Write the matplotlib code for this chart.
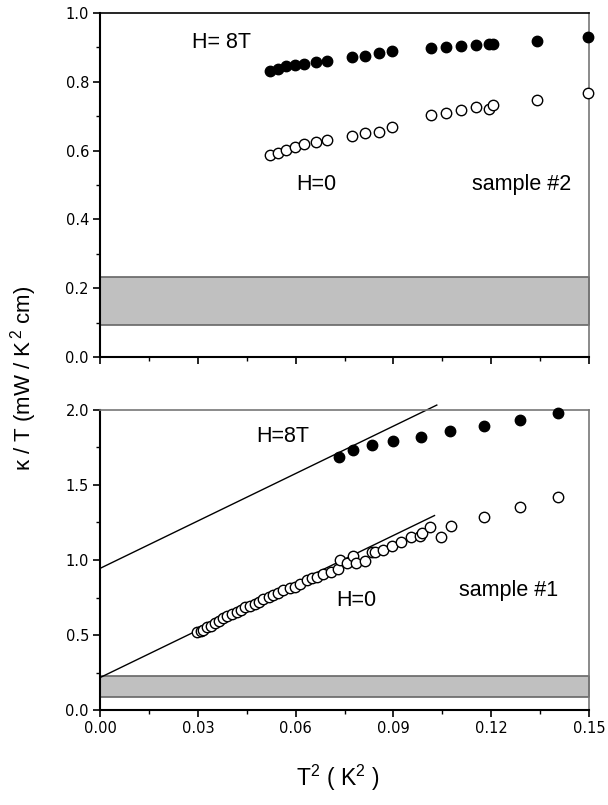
"""
Thermal conductivity kappa/T versus T^2 for two samples, H=0 and H=8T
"""
import matplotlib
matplotlib.use("Agg")
import matplotlib.pyplot as plt
from matplotlib.ticker import MultipleLocator, FormatStrFormatter

# sample #2 (top panel)
s2_x = [0.0521, 0.0545, 0.0571, 0.0597, 0.0627, 0.0661, 0.0696, 0.0774, 0.0813,
        0.0857, 0.0896, 0.1014, 0.1061, 0.1108, 0.1153, 0.1192, 0.1204, 0.1339, 0.1498]
s2_8t = [0.832, 0.838, 0.845, 0.849, 0.853, 0.858, 0.861, 0.871, 0.876,
         0.883, 0.890, 0.897, 0.901, 0.903, 0.908, 0.911, 0.911, 0.919, 0.931]
s2_h0 = [0.586, 0.594, 0.601, 0.611, 0.619, 0.626, 0.632, 0.643, 0.652,
         0.654, 0.668, 0.703, 0.709, 0.717, 0.727, 0.720, 0.733, 0.747, 0.767]
s2_band = (0.092, 0.233)

# sample #1 (bottom panel)
s1_8t_x = [0.0734, 0.0777, 0.0833, 0.0900, 0.0984, 0.1074, 0.1178, 0.1288, 0.1406]
s1_8t_y = [1.689, 1.733, 1.767, 1.796, 1.822, 1.858, 1.893, 1.936, 1.978]
s1_h0_x = [0.0299, 0.0310, 0.0317, 0.0327, 0.0340, 0.0353, 0.0366, 0.0378, 0.0389,
           0.0404, 0.0419, 0.0432, 0.0446, 0.0460, 0.0475, 0.0489, 0.0501, 0.0517,
           0.0532, 0.0547, 0.0562, 0.0583, 0.0598, 0.0613, 0.0634, 0.0649, 0.0665,
           0.0685, 0.0707, 0.0731, 0.0736, 0.0757, 0.0777, 0.0784, 0.0813, 0.0833,
           0.0844, 0.0869, 0.0895, 0.0922, 0.0953, 0.0982, 0.0987, 0.1012, 0.1045,
           0.1076, 0.1178, 0.1288, 0.1406]
s1_h0_y = [0.518, 0.527, 0.533, 0.551, 0.562, 0.578, 0.596, 0.611, 0.627,
           0.640, 0.651, 0.667, 0.684, 0.693, 0.707, 0.722, 0.738, 0.751,
           0.764, 0.782, 0.800, 0.811, 0.822, 0.838, 0.867, 0.878, 0.884,
           0.907, 0.922, 0.940, 1.000, 0.978, 1.029, 0.978, 0.996, 1.056,
           1.051, 1.067, 1.093, 1.122, 1.151, 1.162, 1.178, 1.218, 1.156,
           1.229, 1.287, 1.353, 1.422]
s1_band = (0.089, 0.227)

# linear fits (intercept, slope, x end)
fit_8t = (0.944, 10.54, 0.1033)
fit_h0 = (0.216, 10.53, 0.1026)

XMAX = 0.15
TEXT_FONT = "Liberation Sans"

plt.rcParams["mathtext.fontset"] = "custom"
plt.rcParams["mathtext.rm"] = TEXT_FONT
plt.rcParams["mathtext.it"] = TEXT_FONT

fig = plt.figure(figsize=(6.08, 8.05), dpi=100)
ax1 = fig.add_axes([0.1645, 0.5565, 0.8043, 0.4274])
ax2 = fig.add_axes([0.1645, 0.1180, 0.8043, 0.3727])


def style_axes(ax, ymax, ymaj, ymin):
    ax.set_xlim(0, XMAX)
    ax.set_ylim(0, ymax)
    ax.xaxis.set_major_locator(MultipleLocator(0.03))
    ax.xaxis.set_minor_locator(MultipleLocator(0.015))
    ax.yaxis.set_major_locator(MultipleLocator(ymaj))
    ax.yaxis.set_minor_locator(MultipleLocator(ymin))
    ax.xaxis.set_major_formatter(FormatStrFormatter("%.2f"))
    ax.yaxis.set_major_formatter(FormatStrFormatter("%.1f"))
    ax.tick_params(which="major", direction="out", length=5, width=1.2,
                   labelsize=10.5, pad=3)
    ax.tick_params(which="minor", direction="out", length=3, width=1.0)
    for side in ("left", "bottom"):
        ax.spines[side].set_linewidth(1.5)
        ax.spines[side].set_color("black")
    for side in ("top", "right"):
        ax.spines[side].set_linewidth(1.2)
        ax.spines[side].set_color("#777777")


def band(ax, lo, hi):
    ax.fill_between([0, XMAX], lo, hi, facecolor="#c0c0c0",
                    edgecolor="#666666", linewidth=1.2, zorder=1)


# top panel: sample #2
style_axes(ax1, 1.0, 0.2, 0.1)
ax1.spines["top"].set_color("black")
ax1.tick_params(axis="x", labelbottom=False)
band(ax1, *s2_band)
ax1.plot(s2_x, s2_8t, "o", color="black", ms=7.5, clip_on=False, zorder=3)
ax1.plot(s2_x, s2_h0, "o", mfc="white", mec="black", mew=1.0, ms=7.5,
         clip_on=False, zorder=3)
ax1.text(0.0374, 0.913, "H= 8T", fontsize=15.5, family=TEXT_FONT, ha="center", va="center")
ax1.text(0.0665, 0.502, "H=0", fontsize=15.5, family=TEXT_FONT, ha="center", va="center")
ax1.text(0.1293, 0.500, "sample #2", fontsize=15.5, family=TEXT_FONT,
         ha="center", va="center")

# bottom panel: sample #1
style_axes(ax2, 2.0, 0.5, 0.25)
band(ax2, *s1_band)
for b, m, xe in (fit_8t, fit_h0):
    ax2.plot([0, xe], [b, b + m * xe], color="black", lw=1.0, clip_on=False, zorder=2)
ax2.plot(s1_8t_x, s1_8t_y, "o", color="black", ms=7.5, clip_on=False, zorder=3)
ax2.plot(s1_h0_x, s1_h0_y, "o", mfc="white", mec="black", mew=1.0, ms=7.5,
         clip_on=False, zorder=3)
ax2.text(0.0559, 1.822, "H=8T", fontsize=15.5, family=TEXT_FONT, ha="center", va="center")
ax2.text(0.0787, 0.733, "H=0", fontsize=15.5, family=TEXT_FONT, ha="center", va="center")
ax2.text(0.1253, 0.795, "sample #1", fontsize=15.5, family=TEXT_FONT,
         ha="center", va="center")

# axis labels
fig.text(0.038, 0.530, r"κ / T (mW / K$^{\,2}$ cm)", rotation=90, fontsize=16,
         family=TEXT_FONT, ha="center", va="center")
fig.text(0.555, 0.034, r"T$^{2}$ ( K$^{2}$ )", fontsize=16.5, family=TEXT_FONT,
         ha="center", va="center")

fig.savefig("out.png", dpi=100)
